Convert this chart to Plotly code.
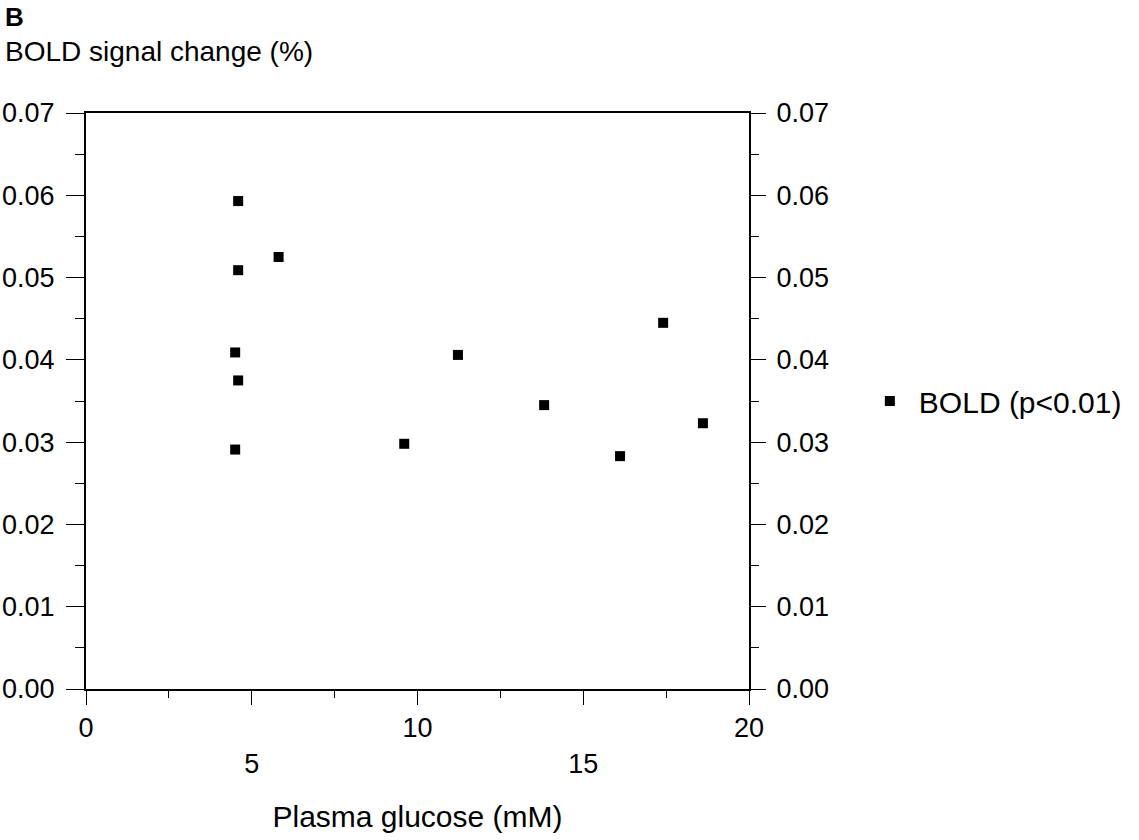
import plotly.graph_objects as go

# Data
glucose = [4.59, 5.81, 4.59, 4.50, 4.59, 4.50, 9.60, 11.22, 13.82, 16.11, 17.41, 18.61]
bold = [0.0593, 0.0525, 0.0509, 0.0409, 0.0375, 0.0291, 0.0298, 0.0406, 0.0345, 0.0283, 0.0445, 0.0323]
x_tickvals = [0, 5, 10, 15, 20]
x_ticktext = ["0", "<br>5", "10", "<br>15", "20"]
y_tickvals = [0.00, 0.01, 0.02, 0.03, 0.04, 0.05, 0.06, 0.07]
series_name = "BOLD (p<0.01)"

FONT = "Liberation Sans, Arial, sans-serif"
TICK_SIZE = 27

fig = go.Figure()
fig.add_trace(go.Scatter(
    x=glucose, y=bold, mode="markers", name=series_name,
    marker=dict(symbol="square", size=10, color="black"),
))
# invisible trace for the right axis
fig.add_trace(go.Scatter(x=[0], y=[0], yaxis="y2", mode="markers",
                         marker=dict(opacity=0), showlegend=False, hoverinfo="skip"))

yax = dict(
    range=[0, 0.07], tickvals=y_tickvals, tickformat=".2f",
    ticks="outside", ticklen=18, tickwidth=1, tickcolor="black",
    ticklabelstandoff=6,
    minor=dict(dtick=0.005, ticks="outside", ticklen=9, tickcolor="black", showgrid=False),
    showline=True, linecolor="black", linewidth=2,
    showgrid=False, zeroline=False, automargin=False,
    tickfont=dict(family=FONT, size=TICK_SIZE, color="black"),
)

fig.update_layout(
    width=1139, height=840,
    margin=dict(l=86, r=386, t=113, b=151),
    paper_bgcolor="white", plot_bgcolor="white",
    xaxis=dict(
        range=[0, 20], tickvals=x_tickvals, ticktext=x_ticktext,
        ticks="outside", ticklen=14, tickwidth=1, tickcolor="black",
        minor=dict(dtick=2.5, ticks="outside", ticklen=7, tickcolor="black", showgrid=False),
        showline=True, linecolor="black", linewidth=2, mirror=True,
        showgrid=False, zeroline=False, automargin=False,
        tickfont=dict(family=FONT, size=TICK_SIZE, color="black"),
        title=dict(text="Plasma glucose (mM)", font=dict(family=FONT, size=30, color="black"),
                   standoff=28),
    ),
    yaxis=yax,
    yaxis2=dict(yax, overlaying="y", side="right", ticklen=15, ticklabelstandoff=5,
                minor=dict(dtick=0.005, ticks="outside", ticklen=8, tickcolor="black", showgrid=False)),
    showlegend=True,
    legend=dict(x=1.1687, y=0.5, xanchor="left", yanchor="middle", itemwidth=48,
                font=dict(family=FONT, size=30, color="black"),
                bgcolor="rgba(0,0,0,0)"),
    annotations=[
        dict(text="<b>B</b>", xref="paper", yref="paper", x=-0.1244, y=1.1667,
             xanchor="left", yanchor="middle", showarrow=False, borderpad=0,
             font=dict(family=FONT, size=26, color="black")),
        dict(text="BOLD signal change (%)", xref="paper", yref="paper", x=-0.1244, y=1.1076,
             xanchor="left", yanchor="middle", showarrow=False, borderpad=0,
             font=dict(family=FONT, size=28, color="black")),
    ],
)

fig.write_html("out.html", config={"displayModeBar": False},
               post_script="document.body.style.margin='0px';")
